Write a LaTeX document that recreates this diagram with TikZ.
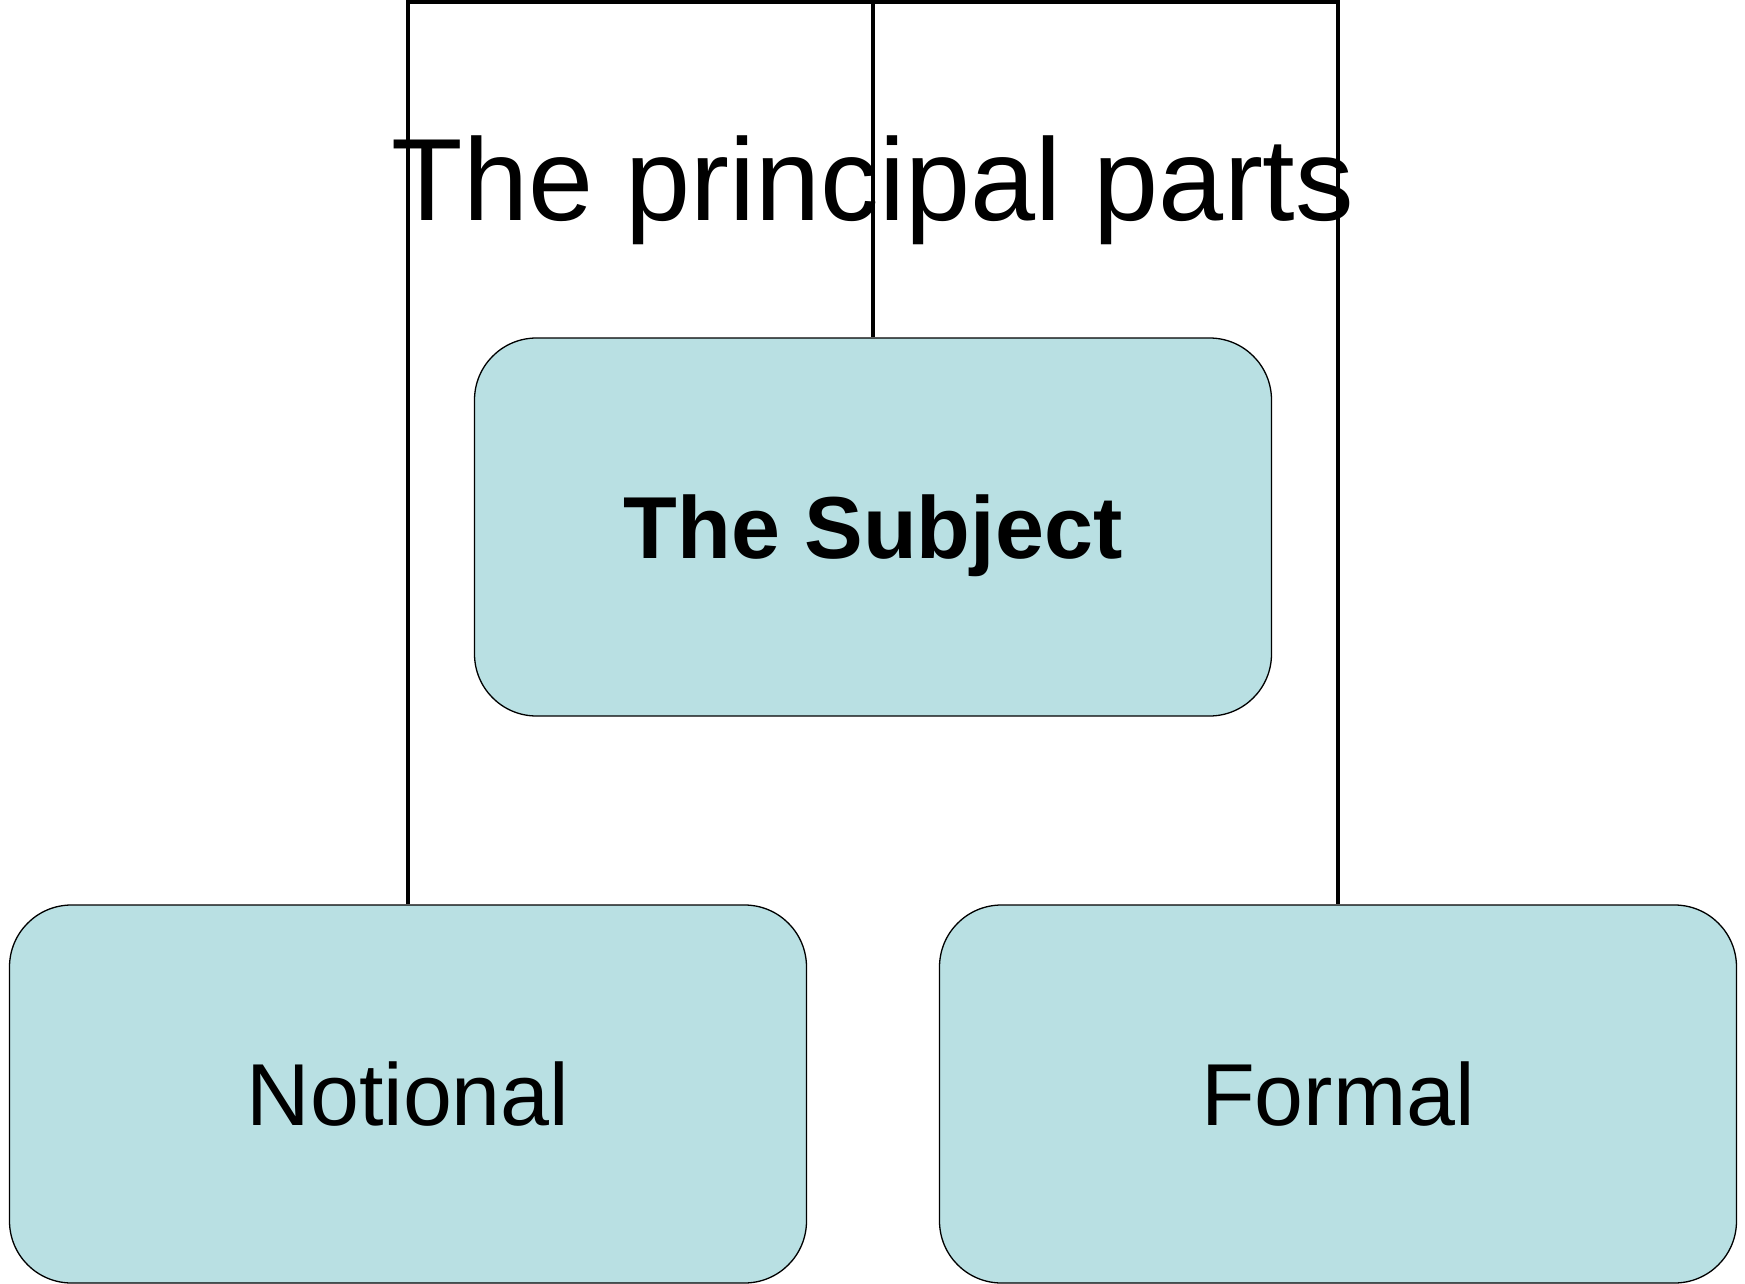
\documentclass[tikz,border=0pt]{standalone}
\usepackage{fontspec}
\setmainfont{Liberation Sans}
\definecolor{boxblue}{RGB}{185,224,227}
\tikzset{
	partbox/.style={draw=black, line width=1.3pt, fill=boxblue, rounded corners=62pt,
		minimum width=797pt, minimum height=378pt, inner sep=0pt, text depth=0pt,
		font=\fontsize{88}{100}\selectfont},
	bracket/.style={line width=4pt}
}
\begin{document}
\begin{tikzpicture}[x=1pt, y=-1pt]

	\useasboundingbox (0,0) rectangle (1745,1284);
	\coordinate (top) at (873,2);
	\node[partbox]	(subject)	at (873,527)	{\textbf{The Subject}};
	\node[partbox]	(notional)	at (408,1094)	{Notional};
	\node[partbox]	(formal)	at (1338,1094)	{Formal};
	\draw[bracket]	(notional.north) -- (notional.north |- top) -- (formal.north |- top) -- (formal.north);
	\draw[bracket]	(subject.north) -- (top);
	\node[anchor=base, inner sep=0pt, font=\fontsize{117}{140}\selectfont]	(title)	at (873,220)	{The principal parts};
\end{tikzpicture}
\end{document}
